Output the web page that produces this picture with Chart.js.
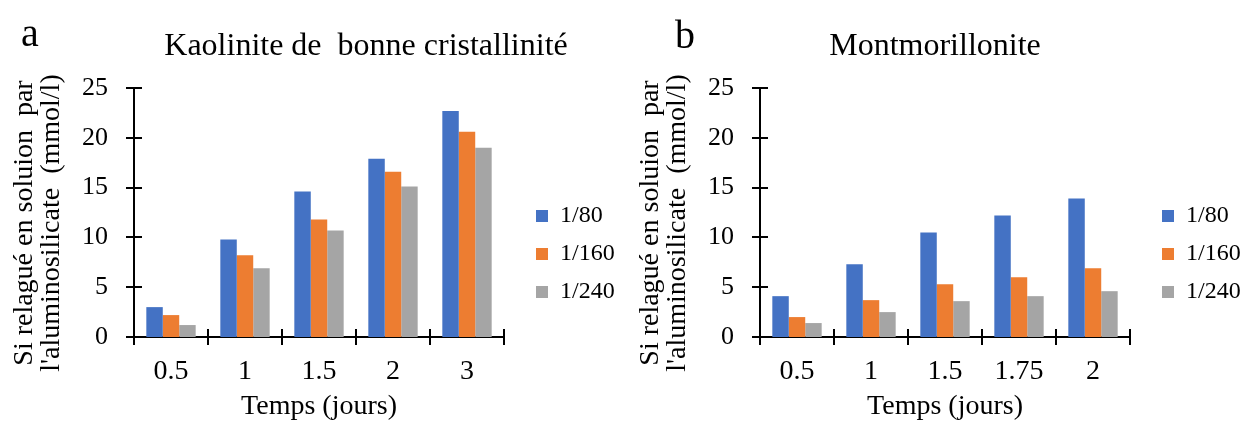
<!DOCTYPE html>
<html>
<head>
  <meta charset="UTF-8">
  <script src="https://cdn.jsdelivr.net/npm/chart.js"></script>
  <title>Si relargué</title>
  <style>
    body { margin: 0; background: #fff; width: 1246px; height: 424px; overflow: hidden; position: relative;
           font-family: "Liberation Serif", "Times New Roman", serif; color: #000; }
    .panel { position: absolute; top: 0; width: 620px; height: 424px; }
    .lettre { position: absolute; font-size: 40px; line-height: 1; }
    .titre { position: absolute; font-size: 32px; line-height: 1; white-space: pre; transform: translateX(-50%); }
  </style>
</head>
<body>
  <div class="panel" style="left:0">
    <canvas id="graphA" width="620" height="424"></canvas>
  </div>
  <div class="panel" style="left:626px">
    <canvas id="graphB" width="620" height="424"></canvas>
  </div>
  <div class="lettre" style="left:21px; top:13px">a</div>
  <div class="titre" style="left:366px; top:28px">Kaolinite de  bonne cristallinité</div>
  <div class="lettre" style="left:675px; top:15px">b</div>
  <div class="titre" style="left:935px; top:28px">Montmorillonite</div>

<script>
  // donnees
  var series = ['1/80', '1/160', '1/240'];
  var couleurs = ['#4472C4', '#ED7D31', '#A5A5A5'];
  var ticksY = [0, 5, 10, 15, 20, 25];

  var tempsKaolinite = ['0.5', '1', '1.5', '2', '3'];
  var kaolinite80 = [3.0, 9.8, 14.6, 17.9, 22.7];
  var kaolinite160 = [2.2, 8.2, 11.8, 16.6, 20.6];
  var kaolinite240 = [1.2, 6.9, 10.7, 15.1, 19.0];

  var tempsMontmo = ['0.5', '1', '1.5', '1.75', '2'];
  var montmo80 = [4.1, 7.3, 10.5, 12.2, 13.9];
  var montmo160 = [2.0, 3.7, 5.3, 6.0, 6.9];
  var montmo240 = [1.4, 2.5, 3.6, 4.1, 4.6];

  Chart.defaults.font.family = "'Liberation Serif', 'Times New Roman', serif";
  Chart.defaults.color = '#000';

  // petits traits qui croisent les axes
  const traitsAxes = {
    id: 'traitsAxes',
    afterDraw(chart) {
      const ctx = chart.ctx;
      const sx = chart.scales.x, sy = chart.scales.y;
      const a = chart.chartArea;
      ctx.save();
      ctx.strokeStyle = '#000';
      ctx.lineWidth = 2;
      ctx.beginPath();
      for (let i = 0; i < sy.ticks.length; i++) {
        const py = Math.round(sy.getPixelForTick(i));
        ctx.moveTo(a.left - 8, py);
        ctx.lineTo(a.left + 8, py);
      }
      for (let i = 0; i <= sx.ticks.length; i++) {
        const px = Math.round(sx.getPixelForValue(i - 0.5));
        ctx.moveTo(px, a.bottom - 8);
        ctx.lineTo(px, a.bottom + 8);
      }
      ctx.stroke();
      ctx.restore();
    }
  };

  // place la legende comme dans la figure (boite jusqu'au bord droit, sinon le texte est coupe)
  const placeLegende = {
    id: 'placeLegende',
    afterLayout(chart, args, opts) {
      const lg = chart.legend;
      if (!lg) return;
      const h = lg.bottom - lg.top;
      lg.left = opts.left; lg.right = chart.width;
      lg.width = lg.right - lg.left;
      lg.top = opts.top; lg.bottom = opts.top + h;
    }
  };

  function faireGraphe(id, labels, v80, v160, v240) {
    const valeurs = [v80, v160, v240];
    const datasets = series.map(function (nom, i) {
      return {
        label: nom,
        data: valeurs[i],
        backgroundColor: couleurs[i],
        borderWidth: 0,
        categoryPercentage: 0.667,
        barPercentage: 1.0
      };
    });

    const g = new Chart(document.getElementById(id), {
      type: 'bar',
      data: { labels: labels, datasets: datasets },
      plugins: [traitsAxes, placeLegende],
      options: {
        responsive: false,
        animation: false,
        layout: { padding: { left: 11, right: 36, top: 88, bottom: 0 } },
        plugins: {
          tooltip: { enabled: false },
          legend: {
            position: 'right',
            align: 'start',
            labels: {
              boxWidth: 12,
              boxHeight: 12,
              padding: 14,
              color: '#000',
              font: { size: 24 }
            }
          },
          placeLegende: { left: 522, top: 190 }
        },
        scales: {
          x: {
            grid: { display: false, drawTicks: false },
            border: { display: true, color: '#000', width: 2 },
            ticks: { padding: 18, font: { size: 28 }, maxRotation: 0 },
            title: { display: true, text: 'Temps (jours)', font: { size: 28 }, padding: { top: 0, bottom: 1 } },
            afterFit: function (s) { s.height = 87; }
          },
          y: {
            min: 0,
            max: 25,
            afterBuildTicks: function (s) { s.ticks = ticksY.map(function (v) { return { value: v }; }); },
            grid: { display: false, drawTicks: false },
            border: { display: true, color: '#000', width: 2 },
            ticks: { padding: 26, font: { size: 26 } },
            title: {
              display: true,
              // espaces en fin de ligne : le texte descend un peu comme dans la figure
              text: ['Si relagué en soluion  par   ', "l'aluminosilicate  (mmol/l)   "],
              font: { size: 28, lineHeight: 27 / 28 },
              padding: 0
            },
            afterFit: function (s) { s.width = 134 - 11; }
          }
        }
      }
    });

    // largeur de legende fixe pour garder la zone du graphe
    const fitNormal = g.legend.fit;
    g.legend.fit = function () { fitNormal.call(this); this.width = 80; };
    g.update();
    return g;
  }

  faireGraphe('graphA', tempsKaolinite, kaolinite80, kaolinite160, kaolinite240);
  faireGraphe('graphB', tempsMontmo, montmo80, montmo160, montmo240);
</script>
</body>
</html>
